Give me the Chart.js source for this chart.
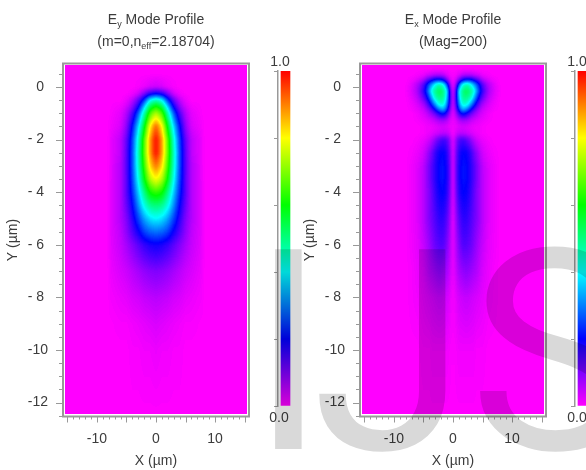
<!DOCTYPE html>
<html>
<head>
<meta charset="utf-8">
<title>Mode profiles</title>
<script src="https://cdn.jsdelivr.net/npm/chart.js@4"></script>
<style>
html,body{margin:0;padding:0;background:#fff;overflow:hidden;}
#page{position:relative;width:586px;height:470px;overflow:hidden;background:#fff;filter:blur(0.55px);font-family:"Liberation Sans",Arial,sans-serif;color:#3c3c3c;}
#page canvas{position:absolute;top:0;}
.txt{position:absolute;font-size:14px;line-height:14px;text-align:center;white-space:nowrap;transform:translateX(-50%);}
.txt sub{font-size:9px;line-height:0;vertical-align:-3px;}
#mark{position:absolute;left:0;top:0;width:586px;height:470px;overflow:hidden;font-family:Roboto,sans-serif;font-size:281px;line-height:281px;color:#d9d9d9;mix-blend-mode:multiply;white-space:nowrap;pointer-events:none;}
#mark span{position:absolute;top:213px;}
</style>
</head>
<body>
<div id="page">
  <canvas id="ey" width="262" height="470" style="left:0"></canvas>
  <canvas id="eyBar" width="31" height="470" style="left:262px"></canvas>
  <canvas id="ex" width="262" height="470" style="left:297px"></canvas>
  <canvas id="exBar" width="31" height="470" style="left:559px"></canvas>
  <div class="txt" style="left:156px;top:12px">E<sub>y</sub> Mode Profile</div>
  <div class="txt" style="left:156px;top:34px">(m=0,n<sub>eff</sub>=2.18704)</div>
  <div class="txt" style="left:453px;top:12px">E<sub>x</sub> Mode Profile</div>
  <div class="txt" style="left:453px;top:34px">(Mag=200)</div>
  <div class="txt" style="left:280px;top:54px">1.0</div>
  <div class="txt" style="left:279px;top:410px">0.0</div>
  <div class="txt" style="left:577px;top:54px">1.0</div>
  <div class="txt" style="left:577px;top:410px">0.0</div>
  <div id="mark"><span style="left:250px">I</span><span style="left:312px">J</span><span style="left:469px">S</span></div>
</div>
<script>
// axis ticks
var xLabelVals=[-10,0,10];
var xLabels=['-10','0','10'];
var yLabelVals=[0,-2,-4,-6,-8,-10,-12];
var yLabels=['0 ','- 2 ','- 4 ','- 6 ','- 8 ','-10','-12'];
var xTickMajor=[-15,-10,-5,0,5,10,15];
var xTickMinor=[-14,-13,-12,-11,-9,-8,-7,-6,-4,-3,-2,-1,1,2,3,4,6,7,8,9,11,12,13,14];
var yTickMajor=[0,-2,-4,-6,-8,-10,-12];
var yTickMinor=[0.5,-0.5,-1,-1.5,-2.5,-3,-3.5,-4.5,-5,-5.5,-6.5,-7,-7.5,-8.5,-9,-9.5,-10.5,-11,-11.5,-12.5];

// colour scale
var scaleStops=[0,0.2,0.4,0.6,0.8,1];
var scaleColors=[[255,0,255],[0,0,255],[0,255,255],[0,255,0],[255,255,0],[255,0,0]];
var barTicks=[0,0.2,0.4,0.6,0.8,1];

// Ey field. columns are |x|, profile is symmetric about x=0
var eyX=[0,1,2,3,4,5,6,8];
var eyY=[0.5,0,-0.25,-0.5,-0.75,-1,-1.5,-2,-2.5,-3,-3.5,-4,-4.5,-5,-5.5,-6,-7,-8,-9,-10,-12.5];
var eyField=[
 [0,0,0,0,0,0,0,0],
 [.04,.03,.015,.005,0,0,0,0],
 [.2,.17,.1,.035,.01,0,0,0],
 [.46,.4,.24,.12,.05,.015,0,0],
 [.62,.55,.36,.19,.09,.035,.01,0],
 [.74,.66,.46,.27,.14,.06,.02,0],
 [.93,.81,.58,.37,.21,.09,.03,.005],
 [1,.88,.66,.43,.25,.12,.05,.01],
 [1,.88,.67,.45,.26,.13,.05,.01],
 [.91,.83,.64,.44,.26,.13,.06,.01],
 [.8,.74,.59,.41,.25,.13,.06,.01],
 [.64,.61,.5,.36,.23,.13,.06,.015],
 [.51,.49,.42,.31,.2,.12,.06,.015],
 [.4,.38,.33,.25,.17,.1,.06,.015],
 [.29,.28,.25,.19,.14,.09,.05,.015],
 [.19,.18,.16,.13,.1,.07,.045,.015],
 [.1,.095,.085,.07,.055,.04,.03,.01],
 [.055,.05,.045,.035,.03,.02,.015,.005],
 [.03,.025,.02,.015,.01,.005,.005,0],
 [.015,.01,.01,.005,.005,0,0,0],
 [0,0,0,0,0,0,0,0]
];

// Ex field (Mag=200), same layout
var exX=[0,.5,1,1.5,2,2.5,3,3.5,4,4.5,5,6,7,8];
var exY=[0.65,0.45,0.25,0.1,-0.15,-0.4,-0.65,-0.85,-1,-1.25,-1.5,-1.75,-2,-2.5,-3,-3.5,-4,-5,-6,-7,-8,-10,-12.5];
var exField=[
 [0,0,.005,.005,.01,.01,.01,.005,.005,0,0,0,0,0],
 [0,.01,.025,.05,.06,.06,.06,.05,.04,.03,.015,.005,0,0],
 [0,.04,.11,.19,.24,.25,.24,.2,.16,.12,.07,.03,.01,0],
 [0,.08,.25,.39,.45,.46,.41,.34,.27,.2,.13,.06,.02,0],
 [.01,.14,.39,.48,.53,.53,.49,.44,.33,.24,.16,.07,.025,.005],
 [.01,.16,.35,.47,.5,.49,.45,.36,.26,.18,.12,.05,.02,0],
 [.01,.14,.3,.42,.44,.41,.33,.25,.17,.11,.07,.03,.01,0],
 [.01,.11,.23,.33,.33,.28,.21,.15,.1,.07,.04,.02,.005,0],
 [.01,.07,.15,.22,.21,.17,.13,.09,.07,.045,.03,.01,0,0],
 [.01,.03,.06,.08,.08,.07,.05,.04,.03,.02,.015,.005,0,0],
 [.01,.015,.025,.03,.03,.025,.02,.015,.01,.01,.005,0,0,0],
 [0,.03,.045,.05,.045,.035,.03,.02,.015,.01,.005,0,0,0],
 [.01,.08,.13,.15,.14,.12,.09,.06,.04,.025,.015,.005,0,0],
 [.01,.11,.17,.2,.2,.19,.16,.12,.09,.06,.035,.015,.005,0],
 [.01,.12,.18,.21,.21,.2,.17,.14,.11,.08,.05,.025,.01,0],
 [.01,.12,.18,.21,.21,.2,.17,.14,.11,.08,.055,.025,.01,0],
 [.01,.11,.17,.2,.2,.19,.16,.13,.1,.08,.055,.025,.01,0],
 [.01,.08,.13,.16,.17,.16,.14,.12,.1,.08,.055,.025,.01,0],
 [.01,.06,.1,.13,.14,.13,.12,.1,.08,.06,.045,.02,.01,0],
 [.01,.04,.07,.08,.09,.09,.08,.07,.06,.045,.03,.015,.005,0],
 [.005,.02,.035,.04,.045,.045,.04,.035,.03,.025,.02,.01,.005,0],
 [0,.005,.01,.01,.01,.01,.01,.01,.005,.005,.005,0,0,0],
 [0,0,0,0,0,0,0,0,0,0,0,0,0,0]
];

var AXIS_COLOR='#999';
var TEXT_COLOR='#3c3c3c';
var FONT='"Liberation Sans", Arial, sans-serif';

function colorFor(v){
    if(v<=0) return scaleColors[0];
    for(var i=1;i<scaleStops.length;i++){
        if(v<=scaleStops[i]){
            var t=(v-scaleStops[i-1])/(scaleStops[i]-scaleStops[i-1]);
            var a=scaleColors[i-1],b=scaleColors[i];
            return [a[0]+(b[0]-a[0])*t,a[1]+(b[1]-a[1])*t,a[2]+(b[2]-a[2])*t];
        }
    }
    return scaleColors[scaleColors.length-1];
}

// value of the read grid at a pixel, for shading between the cells
function fieldAt(f,x,y){
    var ax=Math.abs(x);
    if(ax>=f.xs[f.xs.length-1]||y>=f.ys[0]||y<=f.ys[f.ys.length-1]) return 0;
    var i=0,j=0;
    while(f.xs[i+1]<=ax) i++;
    while(f.ys[j+1]>=y) j++;
    var tx=(ax-f.xs[i])/(f.xs[i+1]-f.xs[i]);
    var ty=(f.ys[j]-y)/(f.ys[j]-f.ys[j+1]);
    var top=f.rows[j][i]*(1-tx)+f.rows[j][i+1]*tx;
    var bot=f.rows[j+1][i]*(1-tx)+f.rows[j+1][i+1]*tx;
    return top*(1-ty)+bot*ty;
}

var fieldPlugin={
    id:'fieldPlugin',
    beforeDatasetsDraw:function(chart,args,opts){
        var xs=chart.scales.x,ys=chart.scales.y;
        var left=Math.round(xs.getPixelForValue(-15.5)),right=Math.round(xs.getPixelForValue(15.5));
        var top=Math.round(ys.getPixelForValue(0.84)),bottom=Math.round(ys.getPixelForValue(-12.42));
        var w=right-left,h=bottom-top;

        var grey=document.createElement('canvas');
        grey.width=w;grey.height=h;
        var gc=grey.getContext('2d');
        var img=gc.createImageData(w,h);
        for(var py=0;py<h;py++){
            var vy=ys.getValueForPixel(top+py+0.5);
            for(var px=0;px<w;px++){
                var v=fieldAt(opts.field,xs.getValueForPixel(left+px+0.5),vy);
                var n=(py*w+px)*4;
                img.data[n]=img.data[n+1]=img.data[n+2]=Math.round(v*255);
                img.data[n+3]=255;
            }
        }
        gc.putImageData(img,0,0);

        var soft=document.createElement('canvas');
        soft.width=w;soft.height=h;
        var sc=soft.getContext('2d');
        sc.fillStyle='#000';
        sc.fillRect(0,0,w,h);
        sc.filter='blur(1.4px)';
        sc.drawImage(grey,0,0);
        sc.filter='none';
        var out=sc.getImageData(0,0,w,h);
        for(var n2=0;n2<out.data.length;n2+=4){
            var c=colorFor(out.data[n2]/255);
            out.data[n2]=c[0];out.data[n2+1]=c[1];out.data[n2+2]=c[2];out.data[n2+3]=255;
        }
        sc.putImageData(out,0,0);
        chart.ctx.drawImage(soft,left,top);
    },
    afterDraw:function(chart){
        var ctx=chart.ctx,a=chart.chartArea,xs=chart.scales.x,ys=chart.scales.y;
        ctx.save();
        ctx.strokeStyle=AXIS_COLOR;
        ctx.lineWidth=2;
        ctx.strokeRect(a.left,a.top,a.right-a.left,a.bottom-a.top);
        ctx.lineWidth=1;
        ctx.beginPath();
        function xTick(v,len){var p=Math.round(xs.getPixelForValue(v))+0.5;ctx.moveTo(p,a.bottom);ctx.lineTo(p,a.bottom+len);}
        function yTick(v,len){var p=Math.round(ys.getPixelForValue(v))+0.5;ctx.moveTo(a.left,p);ctx.lineTo(a.left-len,p);}
        xTickMajor.forEach(function(v){xTick(v,6);});
        xTickMinor.forEach(function(v){xTick(v,3);});
        yTickMajor.forEach(function(v){yTick(v,7);});
        yTickMinor.forEach(function(v){yTick(v,4);});
        ctx.stroke();
        ctx.restore();
    }
};

function cells(xCols,yRows,rows){
    var pts=[];
    yRows.forEach(function(y,j){
        xCols.forEach(function(x,i){
            pts.push({x:x,y:y,v:rows[j][i]});
            if(x!==0) pts.push({x:-x,y:y,v:rows[j][i]});
        });
    });
    return pts;
}

function makeField(id,name,xCols,yRows,rows){
    new Chart(document.getElementById(id),{
        type:'scatter',
        data:{datasets:[{label:name,data:cells(xCols,yRows,rows),pointRadius:0,showLine:false}]},
        plugins:[fieldPlugin],
        options:{
            responsive:false,
            animation:false,
            layout:{padding:{left:0,top:63.5,right:13,bottom:0}},
            plugins:{
                legend:{display:false},
                tooltip:{enabled:false},
                fieldPlugin:{field:{xs:xCols,ys:yRows,rows:rows}}
            },
            scales:{
                x:{
                    type:'linear',min:-15.76,max:15.76,
                    grid:{display:false},border:{display:false},
                    afterFit:function(s){s.height=53.5;},
                    afterBuildTicks:function(s){s.ticks=xLabelVals.map(function(v){return {value:v};});},
                    ticks:{
                        autoSkip:false,maxRotation:0,padding:6,color:TEXT_COLOR,font:{family:FONT,size:14},
                        callback:function(v){return xLabels[xLabelVals.indexOf(v)];}
                    },
                    title:{display:true,text:'X (µm)',color:TEXT_COLOR,font:{family:FONT,size:14},padding:{top:0,bottom:0}}
                },
                y:{
                    type:'linear',min:-12.53,max:0.894,
                    grid:{display:false},border:{display:false},
                    afterFit:function(s){s.width=63;},
                    afterBuildTicks:function(s){s.ticks=yLabelVals.map(function(v){return {value:v};});},
                    ticks:{
                        autoSkip:false,padding:7,color:TEXT_COLOR,font:{family:FONT,size:14},
                        callback:function(v){return yLabels[yLabelVals.indexOf(v)];}
                    },
                    title:{display:true,text:'Y (µm)',color:TEXT_COLOR,font:{family:FONT,size:14},padding:{top:5,bottom:0}}
                }
            }
        }
    });
}

function makeBar(id){
    new Chart(document.getElementById(id),{
        type:'bar',
        data:{
            labels:[''],
            datasets:[{
                data:[1],
                barThickness:9,
                backgroundColor:function(c){
                    var yScale=c.chart.scales.y;
                    var p0=yScale?yScale.getPixelForValue(0):NaN;
                    var p1=yScale?yScale.getPixelForValue(1):NaN;
                    if(!isFinite(p0)||!isFinite(p1)) return '#ff00ff';
                    var g=c.chart.ctx.createLinearGradient(0,p0,0,p1);
                    scaleStops.forEach(function(s,i){
                        g.addColorStop(s,'rgb('+scaleColors[i].join(',')+')');
                    });
                    return g;
                }
            }]
        },
        options:{
            responsive:false,
            animation:false,
            layout:{padding:{left:8,top:71,right:0,bottom:64}},
            plugins:{legend:{display:false},tooltip:{enabled:false}},
            scales:{
                x:{display:false},
                y:{
                    min:0,max:1,
                    afterFit:function(s){s.width=8;},
                    afterBuildTicks:function(s){s.ticks=barTicks.map(function(v){return {value:v};});},
                    grid:{drawOnChartArea:false,drawTicks:true,tickLength:4,color:AXIS_COLOR},
                    border:{display:true,color:AXIS_COLOR,width:1.5},
                    ticks:{display:false}
                }
            }
        }
    });
}

makeField('ey','Ey',eyX,eyY,eyField);
makeField('ex','Ex',exX,exY,exField);
makeBar('eyBar');
makeBar('exBar');
</script>
</body>
</html>
